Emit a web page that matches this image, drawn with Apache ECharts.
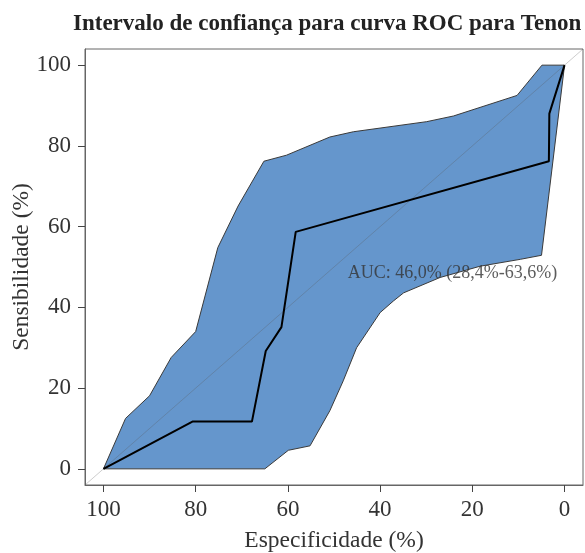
<!DOCTYPE html>
<html>
<head>
<meta charset="utf-8">
<script src="https://cdn.jsdelivr.net/npm/echarts@6/dist/echarts.min.js"></script>
<style>
html,body{margin:0;padding:0;background:#fff;}
#chart{width:585px;height:553px;}
</style>
</head>
<body>
<div id="chart"></div>
<script>
// ROC curve: [specificity %, sensitivity %]
var rocSpec = [100, 80.7, 67.8, 64.8, 61.4, 58.3, 3.4, 3.3, 0];
var rocSens = [0, 11.7, 11.7, 29.2, 35.1, 58.7, 76.2, 88.0, 100];
// CI band upper boundary (from spec 100 to spec 0)
var upSpec = [100, 95.2, 90, 85.3, 80, 75.2, 70.8, 65.2, 60.3, 50.9, 45.8, 29.9, 24.1, 10.3, 4.9, 0];
var upSens = [0, 12.5, 18.1, 27.6, 34.0, 54.8, 65.1, 76.2, 77.7, 82.2, 83.5, 86.0, 87.4, 92.5, 100, 100];
// CI band lower boundary (from spec 0 back to spec 100)
var loSpec = [0, 5.0, 9.6, 18.3, 27.0, 34.9, 37.1, 40, 45.1, 48.0, 50.9, 55.2, 59.9, 65, 100];
var loSens = [100, 52.9, 51.9, 50.2, 47.4, 43.6, 41.6, 38.7, 30.0, 21.8, 14.4, 5.7, 4.6, 0, 0];
var tickValues = [0, 20, 40, 60, 80, 100];
var aucText = 'AUC: 46,0% (28,4%-63,6%)';
var aucPos = [47, 48.5];

var rocData = rocSpec.map(function (s, i) { return [s, rocSens[i]]; });
var bandData = upSpec.map(function (s, i) { return [s, upSens[i]]; })
  .concat(loSpec.map(function (s, i) { return [s, loSens[i]]; }));

var serif = '"Liberation Serif", "DejaVu Serif", serif';
var chart = echarts.init(document.getElementById('chart'));
chart.setOption({
  animation: false,
  backgroundColor: '#fff',
  title: {
    text: 'Intervalo de confiança para curva ROC para Tenon',
    left: 68, top: 8,
    textStyle: { fontFamily: serif, fontSize: 23, fontWeight: 'bold', color: '#222' }
  },
  grid: {
    left: 85, right: 2, top: 49, bottom: 68,
    containLabel: false, outerBoundsMode: 'none',
    show: true, borderColor: '#666', borderWidth: 1, backgroundColor: 'transparent'
  },
  xAxis: {
    type: 'value', min: -4, max: 104, inverse: true,
    name: 'Especificidade (%)', nameLocation: 'middle', nameGap: 44,
    nameTextStyle: { fontFamily: serif, fontSize: 23.5, color: '#333' },
    axisLine: { show: true, onZero: false, lineStyle: { color: '#666', width: 1 } },
    axisTick: { show: true, customValues: tickValues, length: 7, lineStyle: { color: '#444' } },
    axisLabel: { customValues: tickValues, fontFamily: serif, fontSize: 23, color: '#333', margin: 13 },
    splitLine: { show: false }
  },
  yAxis: {
    type: 'value', min: -4, max: 104,
    name: 'Sensibilidade (%)', nameLocation: 'middle', nameGap: 51, nameMoveOverlap: false,
    nameTextStyle: { fontFamily: serif, fontSize: 23.5, color: '#333' },
    axisLine: { show: true, onZero: false, lineStyle: { color: '#666', width: 1 } },
    axisTick: { show: true, customValues: tickValues, length: 7, lineStyle: { color: '#444' } },
    axisLabel: { customValues: tickValues, fontFamily: serif, fontSize: 23, color: '#333', margin: 14 },
    splitLine: { show: false }
  },
  series: [
    {
      type: 'custom',
      data: [0],
      z: 2,
      renderItem: function (params, api) {
        var pts = bandData.map(function (p) { return api.coord(p); });
        return {
          type: 'polygon',
          shape: { points: pts },
          style: { fill: '#6596cc', stroke: '#3a3a3a', lineWidth: 1 }
        };
      },
      silent: true
    },
    {
      type: 'line',
      data: [[104, -4], [-4, 104]],
      symbol: 'none',
      z: 3,
      lineStyle: { color: 'rgba(90,90,90,0.3)', width: 1 },
      silent: true
    },
    {
      type: 'line',
      data: rocData,
      symbol: 'none',
      z: 4,
      lineStyle: { color: '#000', width: 2 },
      silent: true
    },
    {
      type: 'scatter',
      data: [aucPos],
      symbolSize: 0,
      z: 5,
      label: {
        show: true, position: 'right', distance: 0,
        formatter: aucText,
        fontFamily: serif, fontSize: 18, color: '#333'
      },
      silent: true
    }
  ]
});
</script>
</body>
</html>
